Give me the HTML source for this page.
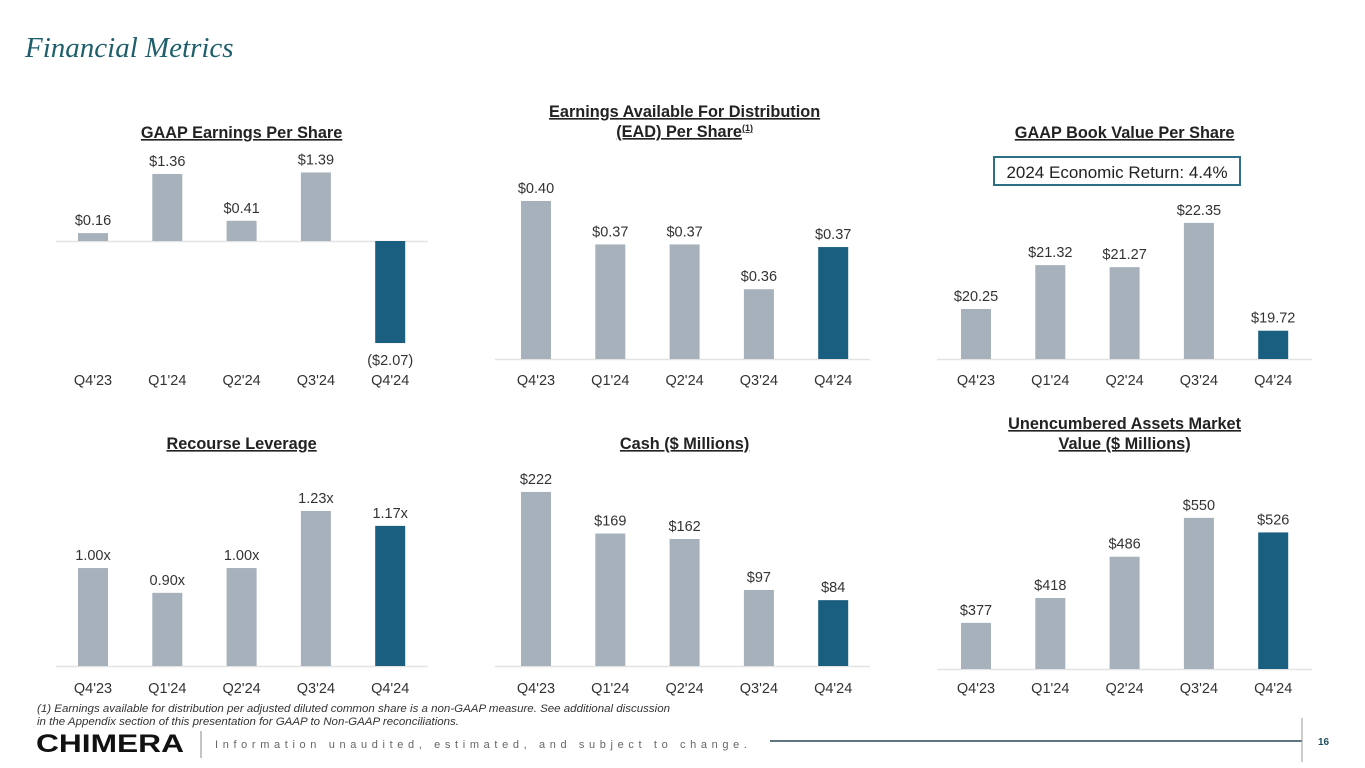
<!DOCTYPE html>
<html><head><meta charset="utf-8"><style>
body{margin:0;background:#fff;width:1365px;height:768px;overflow:hidden;font-family:"Liberation Sans",sans-serif}
svg{display:block}
</style></head><body>
<svg id="s" width="1365" height="768" viewBox="0 0 1365 768">
<text x="25" y="57" font-family="Liberation Serif" font-style="italic" font-size="29" fill="#1f5f6b">Financial Metrics</text>
<rect x="994" y="157" width="246" height="28" fill="none" stroke="#2f6f85" stroke-width="2"/>
<text x="1117" y="178" text-anchor="middle" font-size="17" fill="#222">2024 Economic Return: 4.4%</text>
<text x="37" y="712" font-size="11" font-style="italic" fill="#333" textLength="633" lengthAdjust="spacingAndGlyphs">(1) Earnings available for distribution per adjusted diluted common share is a non-GAAP measure.  See additional discussion</text>
<text x="37" y="725" font-size="11" font-style="italic" fill="#333" textLength="422" lengthAdjust="spacingAndGlyphs">in the Appendix section of this presentation for GAAP to Non-GAAP reconciliations.</text>
<text x="36" y="752" font-size="25" font-weight="bold" fill="#111" textLength="148" lengthAdjust="spacingAndGlyphs">CHIMERA</text>
<line x1="201" y1="731" x2="201" y2="758" stroke="#888" stroke-width="1"/>
<text x="215" y="748" font-size="11" fill="#666" textLength="532" lengthAdjust="spacing">Information unaudited, estimated, and subject to change.</text>
<line x1="770" y1="741" x2="1302" y2="741" stroke="#2c4a55" stroke-width="1.5"/>
<line x1="1302" y1="718" x2="1302" y2="762" stroke="#999" stroke-width="1"/>
<text x="1318" y="745" font-size="10" font-weight="bold" fill="#1f4f5f">16</text>
<g id="charts"></g>
</svg>
<script>
const categories=["Q4'23","Q1'24","Q2'24","Q3'24","Q4'24"];
const gaapEps=[0.16,1.36,0.41,1.39,-2.07];
const gaapEpsLabels=["$0.16","$1.36","$0.41","$1.39","($2.07)"];
const ead=[0.400,0.367,0.367,0.333,0.365];
const eadLabels=["$0.40","$0.37","$0.37","$0.36","$0.37"];
const bookValue=[20.25,21.32,21.27,22.35,19.72];
const bookValueLabels=["$20.25","$21.32","$21.27","$22.35","$19.72"];
const leverage=[1.00,0.90,1.00,1.23,1.17];
const leverageLabels=["1.00x","0.90x","1.00x","1.23x","1.17x"];
const cash=[222,169,162,97,84];
const cashLabels=["$222","$169","$162","$97","$84"];
const unenc=[377,418,486,550,526];
const unencLabels=["$377","$418","$486","$550","$526"];

const NS="http://www.w3.org/2000/svg";
const root=document.getElementById('charts');
function mk(tag,attrs){const e=document.createElementNS(NS,tag);for(const k in attrs)e.setAttribute(k,attrs[k]);return e;}
const specs=[
 {id:'gaap-eps',title:['GAAP Earnings Per Share'],ty:138,cx:93,base:241,min:0,k:49.3,vals:gaapEps,labs:gaapEpsLabels,xl:380,ax:[56,428]},
 {id:'ead',title:['Earnings Available For Distribution','(EAD) Per Share'],sup:true,ty:117,cx:536,base:359,min:0.28,k:1317,vals:ead,labs:eadLabels,xl:380,ax:[495,870]},
 {id:'book-value',title:['GAAP Book Value Per Share'],ty:138,cx:976,base:359,min:19.03,k:41,vals:bookValue,labs:bookValueLabels,xl:380,ax:[937,1312]},
 {id:'leverage',title:['Recourse Leverage'],ty:449,cx:93,base:666,min:0.605,k:248,vals:leverage,labs:leverageLabels,xl:688,ax:[56,428]},
 {id:'cash',title:['Cash ($ Millions)'],ty:449,cx:536,base:666,min:0,k:0.784,vals:cash,labs:cashLabels,xl:688,ax:[495,870]},
 {id:'unencumbered',title:['Unencumbered Assets Market','Value ($ Millions)'],ty:429,cx:976,base:669,min:301,k:0.607,vals:unenc,labs:unencLabels,xl:688,ax:[937,1312]}
];
specs.forEach(s=>{
 const g=mk('g',{});
 
 
 root.appendChild(g);
 const step=74.3, center=s.cx+2*step;
 s.title.forEach((t,i)=>{
  const tx=mk('text',{x:center,y:s.ty+i*20,'text-anchor':'middle','font-size':16.3,'font-weight':'bold',fill:'#222','text-decoration':'underline'});
  tx.textContent=t;
  if(s.sup&&i==s.title.length-1){const sp=mk('tspan',{'font-size':9,dy:-6});sp.textContent='(1)';tx.appendChild(sp);}
  
  
  g.appendChild(tx);
 });
 const ax=mk('line',{x1:s.ax[0],x2:s.ax[1],y1:s.base+0.5,y2:s.base+0.5,stroke:'#e3e3e3','stroke-width':1.5});
 
 
 g.appendChild(ax);
 const y=v=>s.base-(v-s.min)*s.k;
 s.vals.forEach((v,i)=>{
  const x=s.cx+i*step;
  const top=Math.min(y(v),s.base), h=Math.abs(y(v)-s.base);
  const r=mk('rect',{x:x-15,y:top,width:30,height:h,fill:i==4?'#1a5e80':'#a6b1bb'});
  
  
  g.appendChild(r);
  const ly=v<0?y(v)+22:y(v)-8;
  const lt=mk('text',{x:x,y:ly,'text-anchor':'middle','font-size':14.5,fill:'#333'});
  lt.textContent=s.labs[i];
  
  
  g.appendChild(lt);
  const xt=mk('text',{x:x,y:s.xl+5,'text-anchor':'middle','font-size':14.5,fill:'#333'});
  xt.textContent=categories[i];
  
  
  g.appendChild(xt);
 });
});
</script>
</body></html>
